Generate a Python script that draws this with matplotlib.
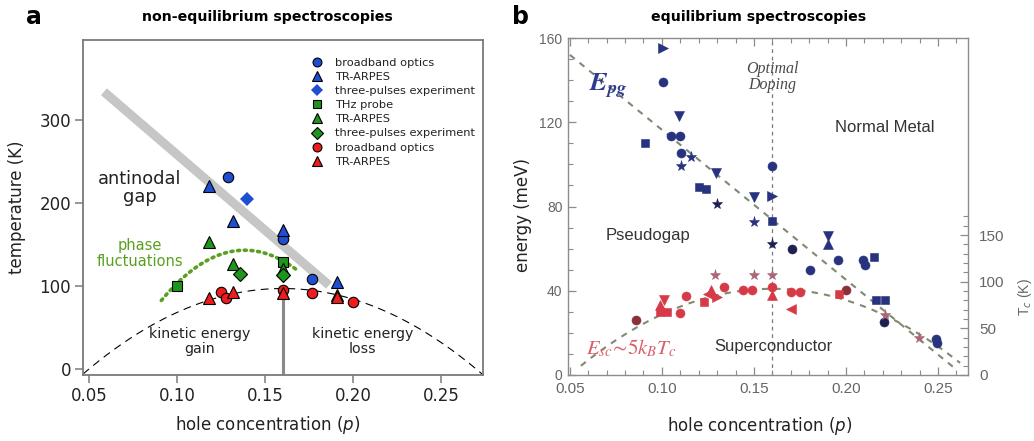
import numpy as np
import matplotlib
matplotlib.use("Agg")
import matplotlib.pyplot as plt
from matplotlib.ticker import FixedLocator, MultipleLocator

W, H = 1034, 441
fig = plt.figure(figsize=(W / 100, H / 100), dpi=100)


def fx(px):
    return px / W


def fy(py):
    return 1 - py / H


# ---------------- panel a: non-equilibrium data ----------------
BLUE = '#1f4fd0'
GREEN = '#1e961e'
RED = '#ee1c1c'
PHASE_GREEN = '#5aa020'

blue_opt_p = [0.129, 0.160, 0.177]
blue_opt_T = [231, 157, 108]
blue_arpes_p = [0.118, 0.132, 0.160, 0.191]
blue_arpes_T = [220, 178, 167, 105]
blue_3p_p = [0.140]
blue_3p_T = [205]
green_thz_p = [0.100, 0.160]
green_thz_T = [100, 129]
green_arpes_p = [0.118, 0.132, 0.160, 0.191]
green_arpes_T = [153, 126, 120, 89]
green_3p_p = [0.136, 0.160]
green_3p_T = [114, 113]
red_opt_p = [0.125, 0.128, 0.160, 0.177, 0.200]
red_opt_T = [93, 86, 95, 92, 81]
red_arpes_p = [0.118, 0.132, 0.160, 0.191]
red_arpes_T = [85, 93, 91, 87]

gap_band_p = [0.0585, 0.1864]
gap_band_T = [334, 101]
phase_p = [0.0911, 0.1015, 0.1128, 0.1242, 0.1355, 0.1468, 0.1581, 0.1685]
phase_T = [81, 107, 127, 139, 142.6, 139, 131, 121]
tc_max_a = 97.0
p_opt = 0.16
p_tick_a = [0.05, 0.10, 0.15, 0.20, 0.25]
T_tick_a = [0, 100, 200, 300]

ax = fig.add_axes([fx(83), fy(375), 400 / W, 335 / H])
ax.set_xlim(0.0466, 0.2739)
ax.set_ylim(-7.2, 396.4)

# superconducting dome (empirical parabola)
pd = np.linspace(0.0466, 0.2739, 300)
ax.plot(pd, tc_max_a * (1 - 82.6 * (pd - p_opt) ** 2), color='black',
        lw=0.8, ls=(0, (7, 5)), zorder=2)
# optimal doping line
ax.plot([p_opt, p_opt], [-10, 95], color='#8a8a8a', lw=2.2, zorder=2,
        solid_capstyle='butt')
# antinodal gap band
ax.plot(gap_band_p, gap_band_T, color='#c6c6c6', lw=6.5,
        solid_capstyle='butt', zorder=1)
# phase fluctuation arc
cf = np.polyfit(phase_p, phase_T, 2)
pp = np.linspace(phase_p[0], phase_p[-1], 200)
ax.plot(pp, np.polyval(cf, pp), color=PHASE_GREEN, lw=2.6,
        ls=(0, (0.55, 1.3)), dash_capstyle='round', zorder=2)

mk = dict(ls='none', mec='black', mew=0.8, zorder=5)
h1, = ax.plot(blue_opt_p, blue_opt_T, 'o', mfc=BLUE, ms=7.5, **mk)
h2, = ax.plot(blue_arpes_p, blue_arpes_T, '^', mfc=BLUE, ms=8.5, **mk)
h3, = ax.plot(blue_3p_p, blue_3p_T, 'D', mfc=BLUE, ms=7.5, ls='none',
              mec=BLUE, mew=0.0, zorder=5)
h4, = ax.plot(green_thz_p, green_thz_T, 's', mfc=GREEN, ms=7, **mk)
h5, = ax.plot(green_arpes_p, green_arpes_T, '^', mfc=GREEN, ms=8.5, **mk)
h6, = ax.plot(green_3p_p, green_3p_T, 'D', mfc=GREEN, ms=7, **mk)
h7, = ax.plot(red_opt_p, red_opt_T, 'o', mfc=RED, ms=7.5, **mk)
h8, = ax.plot(red_arpes_p, red_arpes_T, '^', mfc=RED, ms=8.5, **mk)

labels = ['broadband optics', 'TR-ARPES', 'three-pulses experiment',
          'THz probe', 'TR-ARPES', 'three-pulses experiment',
          'broadband optics', 'TR-ARPES']
leg = ax.legend([h1, h2, h3, h4, h5, h6, h7, h8], labels, frameon=False,
                loc='upper left', bbox_to_anchor=(fx(311), fy(58)),
                bbox_transform=fig.transFigure, fontsize=8.2,
                handlelength=1.0, handletextpad=1.1, labelspacing=0.36,
                markerscale=0.85, borderpad=0, borderaxespad=0)
for t in leg.get_texts():
    t.set_color('#222222')

ax.text(0.0789, 218, 'antinodal\ngap', ha='center', va='center',
        fontsize=12.8, color='#222222', linespacing=1.05)
ax.text(0.0789, 139, 'phase\nfluctuations', ha='center', va='center',
        fontsize=10.5, color=PHASE_GREEN, linespacing=1.05)
ax.text(0.1128, 33, 'kinetic energy\ngain', ha='center', va='center',
        fontsize=10.2, color='#222222', linespacing=1.05)
ax.text(0.2053, 33, 'kinetic energy\nloss', ha='center', va='center',
        fontsize=10.2, color='#222222', linespacing=1.05)

for s in ax.spines.values():
    s.set_color('#7a7a7a')
    s.set_linewidth(1.3)
ax.set_xticks(p_tick_a)
ax.set_xticklabels(['%.2f' % v for v in p_tick_a])
ax.set_yticks(T_tick_a)
ax.tick_params(direction='out', length=5.5, width=1.1, color='#7a7a7a',
               labelsize=12, labelcolor='#222222', pad=3)

fig.text(fx(267.5), fy(425), 'hole concentration ($p$)', ha='center',
         va='center', fontsize=12, color='#222222')
fig.text(fx(17.5), fy(207.5), 'temperature (K)', ha='center', va='center',
         rotation=90, fontsize=12, color='#222222')
fig.text(fx(267), fy(17), 'non-equilibrium spectroscopies', ha='center',
         va='center', fontsize=10.2, fontweight='bold')
fig.text(fx(34), fy(17), 'a', ha='center', va='center', fontsize=17,
         fontweight='bold')

# ---------------- panel b: equilibrium data ----------------
NAVY = '#27337e'
DARK = '#1e2050'
PINK_RED = '#d63a46'
MAROON = '#8a3038'
MAUVE = '#a8687a'
DASH = '#808a72'

b_circle_p = [0.1004, 0.105, 0.1096, 0.1102, 0.160, 0.1804, 0.1955,
              0.209, 0.2105, 0.249, 0.2496]
b_circle_E = [139.2, 113.5, 113.5, 105.6, 99.3, 49.7, 54.7, 54.4, 52.0,
              17.3, 15.0]
b_dark_circle_p = [0.1706, 0.2205]
b_dark_circle_E = [59.6, 25.2]
b_rtri_p = [0.1004, 0.160]
b_rtri_E = [155.3, 85.1]
b_dtri_p = [0.1092, 0.1296, 0.1499, 0.1902]
b_dtri_E = [123.0, 95.7, 84.3, 66.0]
b_utri_p = [0.1902]
b_utri_E = [62.0]
b_square_p = [0.0908, 0.120, 0.124, 0.160, 0.2151, 0.2164, 0.221]
b_square_E = [110.3, 89.1, 88.3, 73.3, 56.0, 35.5, 35.5]
b_star_p = [0.1102, 0.1157, 0.1499]
b_star_E = [99.0, 103.6, 72.5]
b_dark_star_p = [0.130, 0.160]
b_dark_star_E = [81.2, 62.3]

r_circle_p = [0.110, 0.113, 0.134, 0.1443, 0.149, 0.160, 0.170, 0.1748]
r_circle_E = [29.2, 37.4, 41.8, 40.5, 40.5, 41.8, 39.4, 39.4]
r_dark_circle_p = [0.0861, 0.1998]
r_dark_circle_E = [26.0, 40.2]
r_square_p = [0.099, 0.1028, 0.123, 0.196]
r_square_E = [29.9, 29.9, 34.7, 38.6]
r_utri_p = [0.1268, 0.160, 0.099]
r_utri_E = [40.2, 37.8, 33.0]
r_dtri_p = [0.1010]
r_dtri_E = [35.5]
r_rtri_p = [0.130]
r_rtri_E = [37.0]
r_ltri_p = [0.170, 0.125]
r_ltri_E = [31.5, 38.5]
r_star_p = [0.129, 0.1499, 0.160, 0.221, 0.2395]
r_star_E = [47.6, 47.6, 47.3, 28.4, 17.7]

pg_line_p = [0.050, 0.258]
pg_line_E = [152, 4]
tc_max_b = 95.0
five_kb = 5 * 0.08617      # meV per K
tc_axis_scale = 0.443      # meV per K on the right-hand axis
p_tick_b = [0.05, 0.10, 0.15, 0.20, 0.25]
E_tick_b = [0, 40, 80, 120, 160]
Tc_tick_b = [0, 50, 100, 150]

axb = fig.add_axes([fx(568), fy(375), 400 / W, 337 / H])
axb.set_xlim(0.049, 0.2663)
axb.set_ylim(0, 160)

axb.axvline(p_opt, color='#7a7a7a', lw=0.9, ls=(0, (3, 3)), zorder=1)
axb.plot(pg_line_p, pg_line_E, color=DASH, lw=1.5, ls=(0, (3, 3)), zorder=2)
pb = np.linspace(0.056, 0.262, 300)
axb.plot(pb, five_kb * tc_max_b * (1 - 82.6 * (pb - p_opt) ** 2),
         color=DASH, lw=1.5, ls=(0, (3, 3)), zorder=2)

bm = dict(ls='none', mew=0.4, zorder=4)
axb.plot(b_circle_p, b_circle_E, 'o', ms=6.5, mfc=NAVY, mec=NAVY, **bm)
axb.plot(b_dark_circle_p, b_dark_circle_E, 'o', ms=6.5, mfc=DARK, mec=DARK, **bm)
axb.plot(b_rtri_p, b_rtri_E, '>', ms=6.5, mfc=NAVY, mec=NAVY, **bm)
axb.plot(b_dtri_p, b_dtri_E, 'v', ms=6.5, mfc=NAVY, mec=NAVY, **bm)
axb.plot(b_utri_p, b_utri_E, '^', ms=6.5, mfc=NAVY, mec=NAVY, **bm)
axb.plot(b_square_p, b_square_E, 's', ms=6, mfc=NAVY, mec=NAVY, **bm)
axb.plot(b_star_p, b_star_E, '*', ms=8, mfc=NAVY, mec=NAVY, **bm)
axb.plot(b_dark_star_p, b_dark_star_E, '*', ms=8, mfc=DARK, mec=DARK, **bm)

axb.plot(r_circle_p, r_circle_E, 'o', ms=6.5, mfc=PINK_RED, mec=PINK_RED, **bm)
axb.plot(r_dark_circle_p, r_dark_circle_E, 'o', ms=6.5, mfc=MAROON, mec=MAROON, **bm)
axb.plot(r_square_p, r_square_E, 's', ms=6, mfc=PINK_RED, mec=PINK_RED, **bm)
axb.plot(r_utri_p, r_utri_E, '^', ms=6.5, mfc=PINK_RED, mec=PINK_RED, **bm)
axb.plot(r_dtri_p, r_dtri_E, 'v', ms=6.5, mfc=PINK_RED, mec=PINK_RED, **bm)
axb.plot(r_rtri_p, r_rtri_E, '>', ms=6.5, mfc=PINK_RED, mec=PINK_RED, **bm)
axb.plot(r_ltri_p, r_ltri_E, '<', ms=6.5, mfc=PINK_RED, mec=PINK_RED, **bm)
axb.plot(r_star_p, r_star_E, '*', ms=8, mfc=MAUVE, mec=MAUVE, **bm)

axb.text(0.0708, 137, r'$\mathbfit{E}_{\mathbfit{pg}}$', ha='center',
         va='center', fontsize=19, color='#2c3c8c', math_fontfamily='stix')
axb.text(0.0834, 12.6, r'$E_{sc}\!\sim\!5k_BT_c$', ha='center', va='center',
         fontsize=15, color='#d8606a', math_fontfamily='stix')
axb.text(0.160, 141.5, 'Optimal\nDoping', ha='center', va='center',
         fontsize=11.5, color='#4a4a4a', style='italic',
         family='Liberation Serif', linespacing=1.0)
txt = dict(ha='center', va='center', fontsize=12, color='#333333',
           family='Liberation Sans')
axb.text(0.221, 117.4, 'Normal Metal', **txt)
axb.text(0.0922, 66.2, 'Pseudogap', **txt)
axb.text(0.1604, 13.4, 'Superconductor', **txt)

for s in axb.spines.values():
    s.set_color('#8c8c8c')
    s.set_linewidth(1.0)
axb.xaxis.set_major_locator(FixedLocator(p_tick_b))
axb.xaxis.set_minor_locator(MultipleLocator(0.01))
axb.set_xticklabels(['%.2f' % v for v in p_tick_b])
axb.yaxis.set_major_locator(FixedLocator(E_tick_b))
axb.yaxis.set_minor_locator(MultipleLocator(10))
axb.tick_params(which='both', direction='in', color='#8c8c8c', top=True,
                right=False)
axb.tick_params(which='major', length=6, width=0.9)
axb.tick_params(which='minor', length=3.5, width=0.8)
axb.tick_params(axis='x', labelsize=11, labelcolor='#666666', pad=5)
axb.tick_params(axis='y', labelsize=10, labelcolor='#666666', pad=4)
for t in axb.get_xticklabels() + axb.get_yticklabels():
    t.set_family('Liberation Sans')

ax2 = axb.twinx()
ax2.set_ylim(0, 160 / tc_axis_scale)
ax2.yaxis.set_major_locator(FixedLocator(Tc_tick_b))
ax2.yaxis.set_minor_locator(FixedLocator(list(range(0, 171, 10))))
ax2.tick_params(which='both', direction='in', color='#8c8c8c')
ax2.tick_params(which='major', length=6, width=0.9, labelsize=11,
                labelcolor='#666666', pad=8)
ax2.tick_params(which='minor', length=3.5, width=0.8)
for t in ax2.get_yticklabels():
    t.set_family('Liberation Sans')
for s in ax2.spines.values():
    s.set_visible(False)

fig.text(fx(1025), fy(297), r'T$_c$ (K)', ha='center', va='center',
         rotation=90, fontsize=10, color='#666666', family='Liberation Sans')
fig.text(fx(760), fy(426), 'hole concentration ($p$)', ha='center',
         va='center', fontsize=12, color='#222222')
fig.text(fx(522.5), fy(215), 'energy (meV)', ha='center', va='center',
         rotation=90, fontsize=12, color='#222222')
fig.text(fx(758.5), fy(17.5), 'equilibrium spectroscopies', ha='center',
         va='center', fontsize=10.2, fontweight='bold')
fig.text(fx(521), fy(17), 'b', ha='center', va='center', fontsize=17,
         fontweight='bold')

fig.savefig('out.png', dpi=100)
